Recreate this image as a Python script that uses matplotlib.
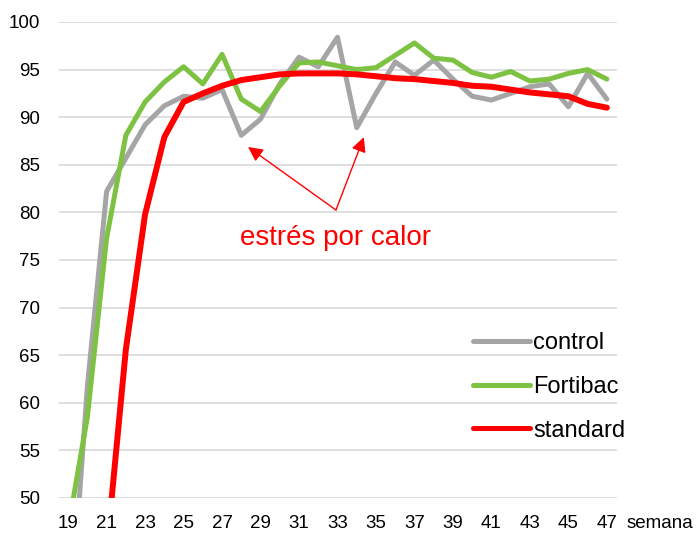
import matplotlib
matplotlib.use("Agg")
import matplotlib.pyplot as plt
import numpy as np

weeks = list(range(19, 48))
control = [33.6, 61.7, 82.2, 85.7, 89.2, 91.2, 92.2, 92.0, 92.9, 88.1, 89.8, 93.5, 96.3, 95.3,
           98.4, 88.9, 92.5, 95.8, 94.4, 96.0, 94.0, 92.2, 91.8, 92.5, 93.2, 93.5, 91.1, 94.6, 91.9]
fortibac = [46.8, 58.5, 77.3, 88.1, 91.6, 93.7, 95.3, 93.5, 96.6, 91.9, 90.6, 93.3, 95.7, 95.8,
            95.4, 95.0, 95.2, 96.5, 97.8, 96.2, 96.0, 94.7, 94.2, 94.8, 93.8, 94.0, 94.6, 95.0, 94.0]
standard = [np.nan, np.nan, 44.4, 65.6, 79.8, 87.9, 91.6, 92.5, 93.3, 93.9, 94.2, 94.5, 94.6, 94.6,
            94.6, 94.5, 94.3, 94.1, 94.0, 93.8, 93.6, 93.3, 93.2, 92.9, 92.6, 92.4, 92.2, 91.4, 91.0]
xticks = list(range(19, 48, 2))
yticks = list(range(50, 101, 5))
series_names = ["control", "Fortibac", "standard"]
annot_text = "estrés por calor"

plt.rcParams['font.family'] = ['Liberation Sans', 'DejaVu Sans']

W, H = 698, 533
fig = plt.figure(figsize=(W / 100, H / 100), dpi=100)
ax = fig.add_axes([58.5 / W, 1 - 498 / H, (616.5 - 58.5) / W, (498 - 22) / H])

grid_c = '#d9d9d9'
for yv in yticks:
    ax.axhline(yv, color=grid_c, lw=1.2, zorder=0)

kw = dict(solid_joinstyle='round', solid_capstyle='round')
ax.plot(weeks, control, color='#a5a5a5', lw=3.6, label=series_names[0], zorder=2, **kw)
ax.plot(weeks, fortibac, color='#7dc242', lw=3.6, label=series_names[1], zorder=3, **kw)
ax.plot(weeks, standard, color='#ff0000', lw=4.3, label=series_names[2], zorder=4, **kw)

ax.set_xlim(18.5, 47.5)
ax.set_ylim(50, 100)
ax.set_xticks(xticks)
ax.set_yticks(yticks)
ax.tick_params(axis='both', length=0, labelsize=13.5, colors='#000000')
ax.tick_params(axis='x', pad=12)
ax.tick_params(axis='y', pad=13)
for s in ax.spines.values():
    s.set_visible(False)

fig.text(627 / W, 1 - 523 / H, 'semana', fontsize=13.5, ha='left', va='center')

# annotation
origin = (32.92, 80.25)
for tip in [(28.35, 86.87), (34.37, 87.9)]:
    ax.annotate('', xy=tip, xytext=origin,
                arrowprops=dict(arrowstyle='-|>', color='#ff0000', lw=1.0,
                                mutation_scale=22, shrinkA=0, shrinkB=0), zorder=5)
ax.text(32.92, 77.3, annot_text, color='#ff0000', fontsize=20, ha='center', va='center', zorder=5)

leg = ax.legend(loc='center left', bbox_to_anchor=(473 / W, 1 - 387 / H),
                bbox_transform=fig.transFigure, frameon=False, fontsize=17,
                handlelength=2.4, handletextpad=0.15, labelspacing=0.92,
                borderpad=0, borderaxespad=0)
for line in leg.get_lines():
    line.set_linewidth(3.6)
    line.set_solid_capstyle('round')

fig.savefig('out.png', dpi=100)
